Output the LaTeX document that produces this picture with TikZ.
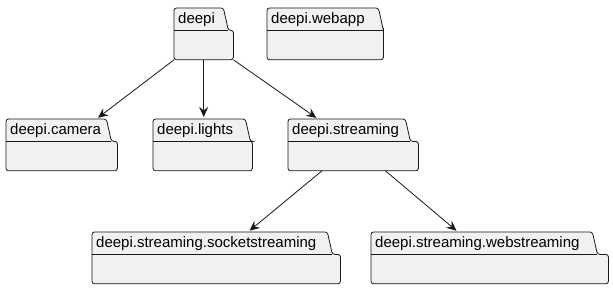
\documentclass[tikz,border=0pt]{standalone}
\usepackage{fontspec}
\setmainfont{Liberation Sans}
\definecolor{pkgfill}{HTML}{F1F1F1}
\definecolor{pkgedge}{HTML}{181818}
\usetikzlibrary{calc, positioning, arrows.meta, backgrounds}

\begin{document}
\begin{tikzpicture}[
    x=1pt, y=-1pt,
    tab/.style={anchor=north west, inner xsep=4pt, inner ysep=0pt, align=left,
      minimum height=22pt, font=\fontsize{15}{18}\selectfont},
    body/.style={anchor=north west, inner sep=0pt, minimum height=29pt},
    outline/.style={draw=pkgedge, fill=pkgfill, line width=0.8pt, rounded corners=2.5pt},
    dep/.style={draw=pkgedge, line width=0.8pt,
      -{Stealth[length=10pt, width=9pt, inset=3.5pt]}, shorten >=2pt},
  ]
    \useasboundingbox (0,0) rectangle (613,290);

    % top row
    \node[tab, text width=41pt] (deepi-tab) at (174,8) {deepi};
    \node[body, minimum width=59pt] (deepi) at (deepi-tab.south west) {};
    \node[tab, text width=103pt] (webapp-tab) at (267,8) {deepi.webapp};
    \node[body, minimum width=116pt] (webapp) at (webapp-tab.south west) {};

    % middle row
    \node[tab, text width=92pt] (camera-tab) at (6,119) {deepi.camera};
    \node[body, minimum width=111pt] (camera) at (camera-tab.south west) {};
    \node[tab, text width=84pt] (lights-tab) at (153,119) {deepi.lights};
    \node[body, minimum width=99pt] (lights) at (lights-tab.south west) {};
    \node[tab, text width=109pt] (streaming-tab) at (288,119) {deepi.streaming};
    \node[body, minimum width=130pt] (streaming) at (streaming-tab.south west) {};

    % bottom row
    \node[tab, text width=227pt] (socket-tab) at (92,232) {deepi.streaming.socketstreaming};
    \node[body, minimum width=248pt] (socket) at (socket-tab.south west) {};
    \node[tab, text width=213pt] (web-tab) at (371,232) {deepi.streaming.webstreaming};
    \node[body, minimum width=237pt] (web) at (web-tab.south west) {};

    % white page and folder outlines behind the labels
    \begin{scope}[on background layer]
      \fill[white] (0,0) rectangle (613,290);
      \foreach \p in {deepi, webapp, camera, lights, streaming, socket, web} {
        \path[outline] (\p.north west) -- (\p-tab.north west) -- (\p-tab.north east)
          -- ([xshift=5pt]\p-tab.south east) -- (\p.north east) -- (\p.south east)
          -- (\p.south west) -- cycle;
        \draw[pkgedge, line width=0.8pt] (\p.north west) -- ([xshift=5pt]\p-tab.south east);
      }
    \end{scope}

    \draw[dep] (deepi.south west) -- ([xshift=-10pt]camera-tab.north east);
    \draw[dep] (deepi.south) -- (deepi.south |- lights-tab.north);
    \draw[dep] (deepi.south east) -- ([xshift=30pt]streaming-tab.north west);
    \draw[dep] ([xshift=34pt]streaming.south west) -- ([xshift=156pt]socket-tab.north west);
    \draw[dep] ([xshift=-33pt]streaming.south east) -- ([xshift=87pt]web-tab.north west);
  \end{tikzpicture}
\end{document}
